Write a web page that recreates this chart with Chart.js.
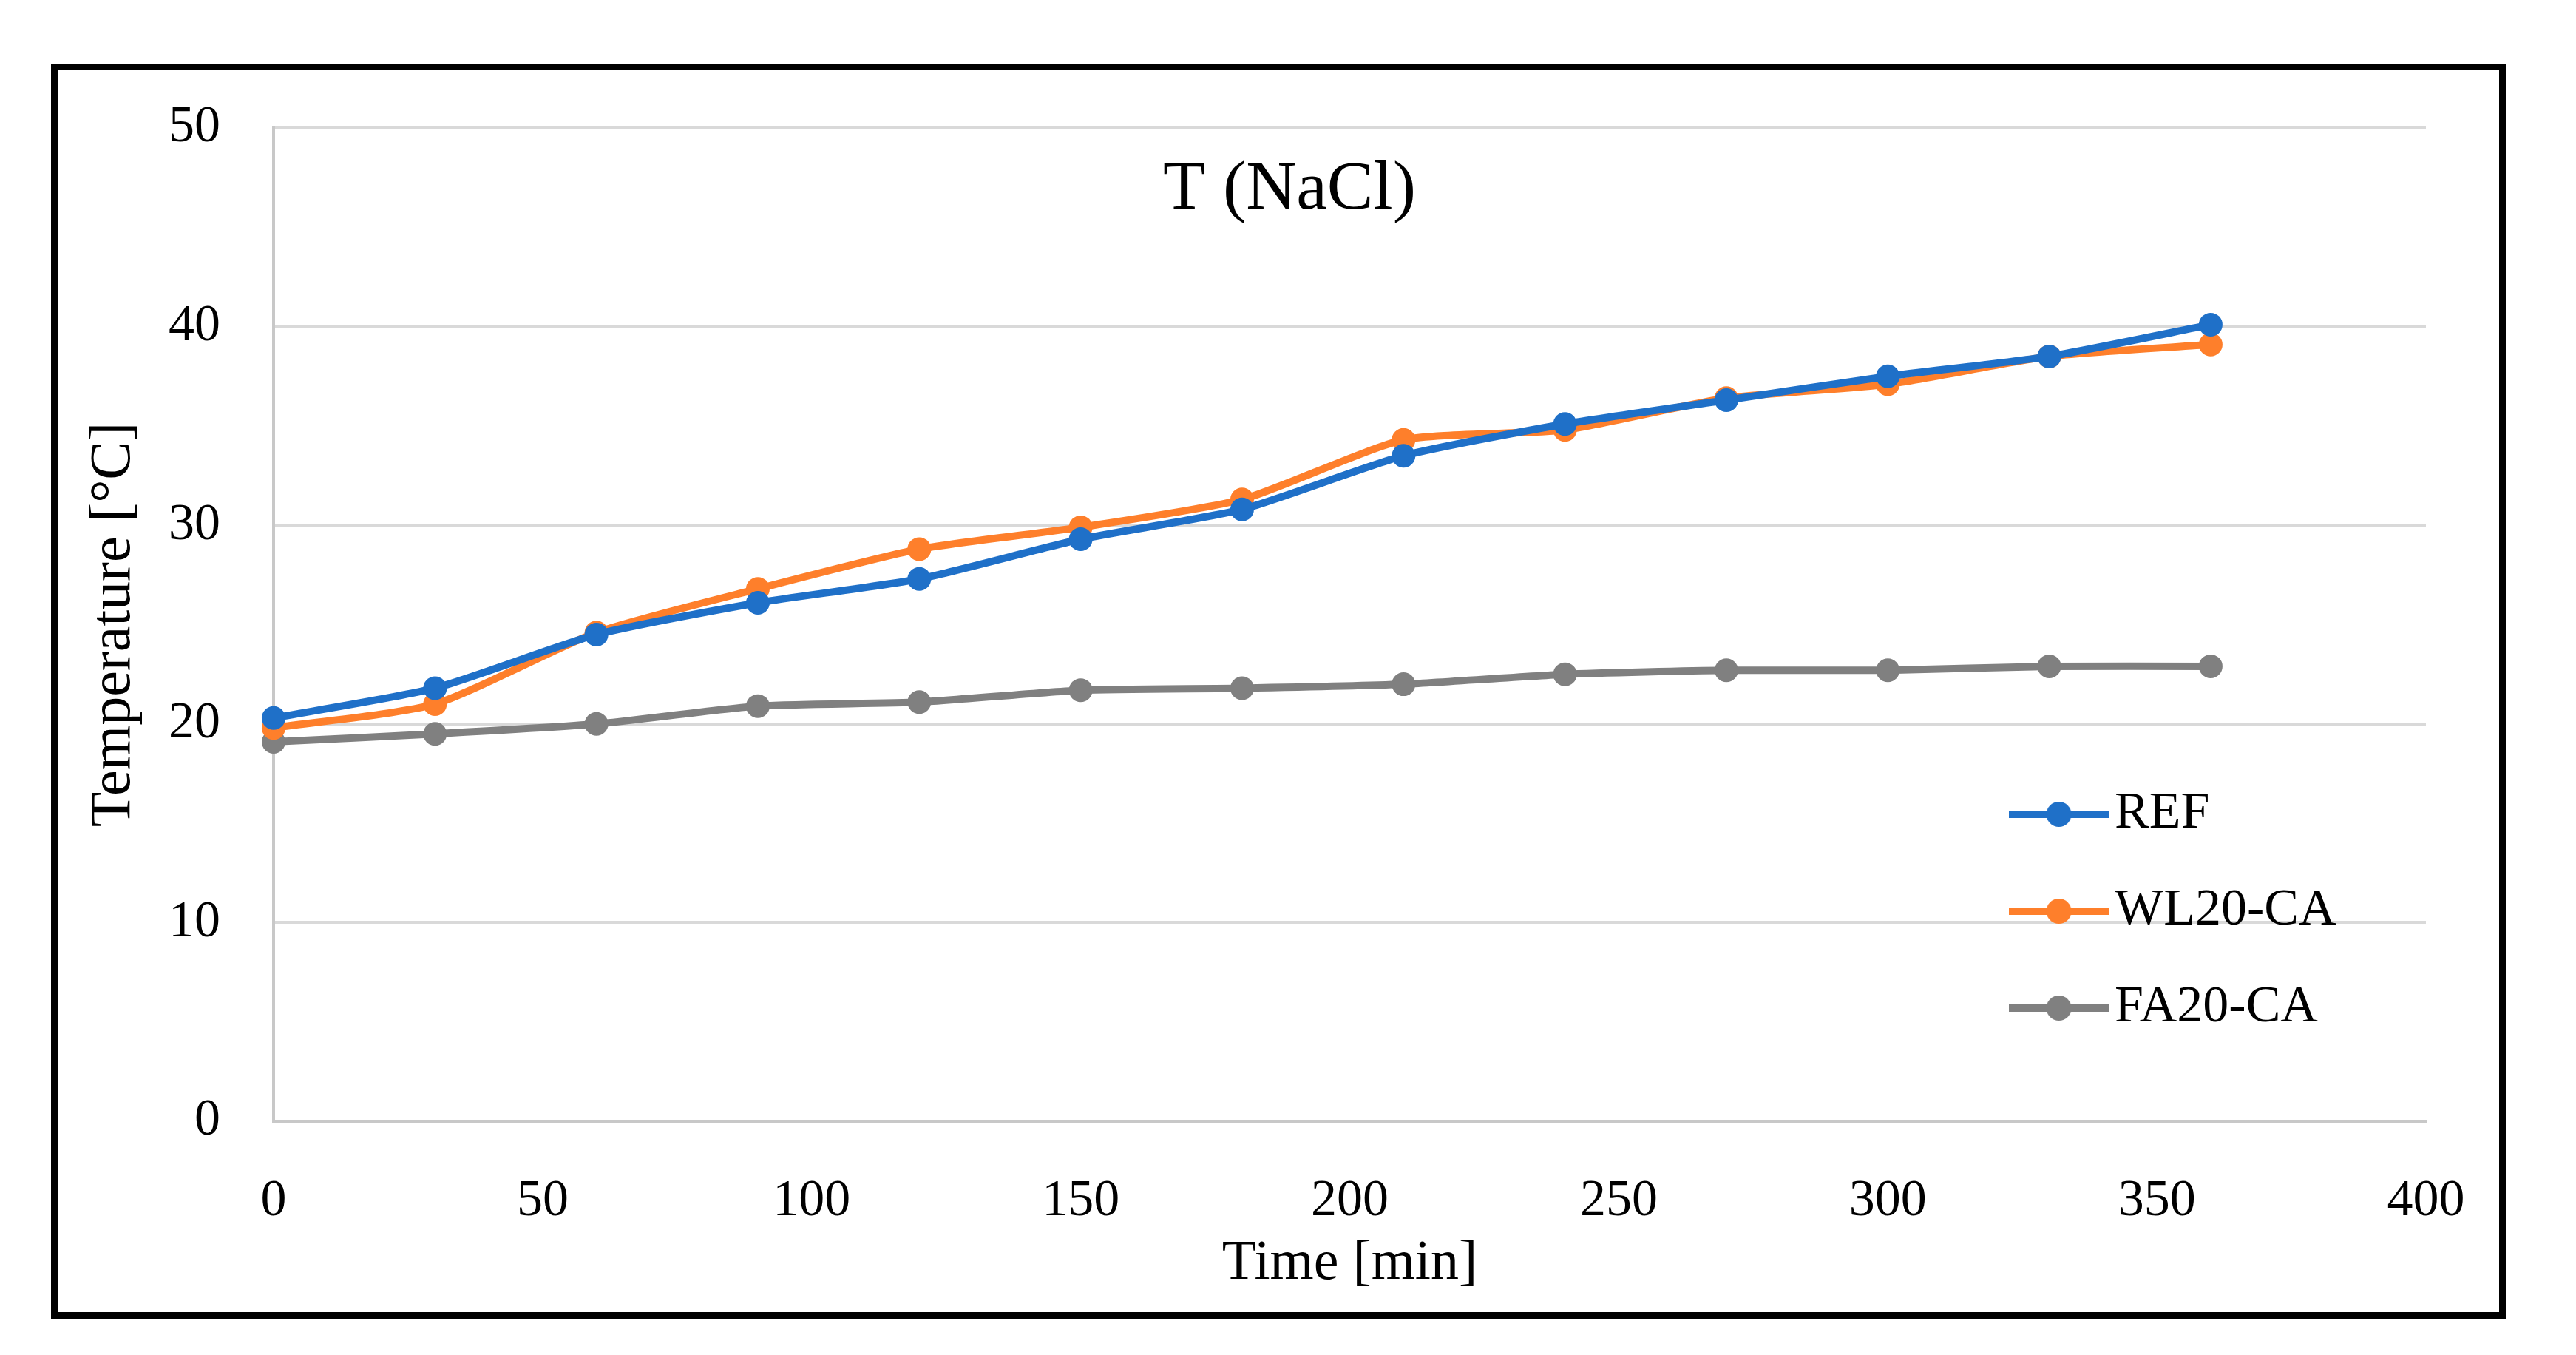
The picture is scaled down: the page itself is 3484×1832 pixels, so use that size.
<!DOCTYPE html>
<html>
<head>
<meta charset="utf-8">
<script src="https://cdn.jsdelivr.net/npm/chart.js@4/dist/chart.umd.min.js"></script>
<style>
  html, body { margin: 0; padding: 0; background: #fff; }
  .frame {
    position: absolute; left: 69px; top: 86px;
    width: 3320px; height: 1697px;
    border: 9px solid #000; box-sizing: border-box; background: #fff;
  }
  .frame canvas { display: block; }
</style>
</head>
<body>
<div class="frame"><canvas id="chart"></canvas></div>
<script>
// time axis (min) and measured temperatures (°C)
const timeMin = [0, 30, 60, 90, 120, 150, 180, 210, 240, 270, 300, 330, 360];
const refTemp = [20.3, 21.8, 24.5, 26.1, 27.3, 29.3, 30.8, 33.5, 35.1, 36.3, 37.5, 38.5, 40.1];
const wl20Temp = [19.8, 21.0, 24.6, 26.8, 28.8, 29.9, 31.3, 34.3, 34.8, 36.4, 37.1, 38.5, 39.1];
const fa20Temp = [19.1, 19.5, 20.0, 20.9, 21.1, 21.7, 21.8, 22.0, 22.5, 22.7, 22.7, 22.9, 22.9];
const seriesNames = ['REF', 'WL20-CA', 'FA20-CA'];
const seriesColors = ['#1f70c8', '#fe7f2b', '#808080'];
const chartTitle = 'T (NaCl)';

Chart.defaults.font.family = "'Liberation Serif', 'Times New Roman', serif";
Chart.defaults.color = '#000';

const toPoints = vals => vals.map((v, i) => ({x: timeMin[i], y: v}));

// legend glyph: line with marker, like the office legend
function legendIcon(color) {
  const c = document.createElement('canvas');
  c.width = 135; c.height = 40;
  const g = c.getContext('2d');
  g.fillStyle = color;
  g.fillRect(0, 15, 135, 10);
  g.beginPath();
  g.arc(67.5, 20, 17, 0, Math.PI * 2);
  g.fill();
  return c;
}
const icons = seriesColors.map(legendIcon);

function makeSet(i, vals) {
  return {
    label: seriesNames[i],
    data: toPoints(vals),
    borderColor: seriesColors[i],
    backgroundColor: seriesColors[i],
    pointBackgroundColor: seriesColors[i],
    pointBorderWidth: 0,
    pointRadius: 16,
    borderWidth: 10,
    tension: 0.2,
    clip: false
  };
}

const placeLegend = {
  id: 'placeLegend',
  beforeDraw(chart) {
    const a = chart.chartArea, lg = chart.legend;
    if (!lg) return;
    const w = a.right - a.left, h = a.bottom - a.top;
    lg.left = a.left + w * 0.7946;
    lg.right = a.right;
    lg.top = a.top + h * 0.6195;
    lg.bottom = lg.top + 1000;
  }
};

const insideTitle = {
  id: 'insideTitle',
  afterDraw(chart) {
    const a = chart.chartArea, ctx = chart.ctx;
    ctx.save();
    ctx.font = "94px 'Liberation Serif', serif";
    ctx.fillStyle = '#000';
    ctx.textAlign = 'center';
    ctx.textBaseline = 'alphabetic';
    ctx.fillText(chartTitle, a.left + (a.right - a.left) * 0.472, a.top + 109);
    ctx.restore();
  }
};

new Chart(document.getElementById('chart'), {
  type: 'line',
  data: {
    datasets: [makeSet(0, refTemp), makeSet(1, wl20Temp), makeSet(2, fa20Temp)]
  },
  options: {
    responsive: true,
    maintainAspectRatio: false,
    animation: false,
    layout: { padding: { top: 78, right: 99, left: 0, bottom: 0 } },
    scales: {
      x: {
        type: 'linear',
        min: 0, max: 400,
        ticks: { stepSize: 50, padding: 3, font: { size: 70 } },
        grid: { color: 'transparent', tickColor: 'transparent', drawTicks: true, tickLength: 64 },
        border: { display: true, color: '#c8c8c8', width: 4 },
        title: { display: true, text: 'Time [min]', font: { size: 76 }, padding: { top: 0, bottom: 19 } },
        afterFit(s) { s.height = 258; }
      },
      y: {
        min: 0, max: 50,
        ticks: { stepSize: 10, padding: 3, font: { size: 70 } },
        grid: { color: '#d9d9d9', lineWidth: 4, tickColor: 'transparent', drawTicks: true, tickLength: 69 },
        border: { display: true, color: '#c8c8c8', width: 4 },
        title: { display: true, text: 'Temperature [°C]', font: { size: 78 }, padding: { top: 30, bottom: 0 } },
        afterFit(s) { s.width = 292; }
      }
    },
    plugins: {
      title: { display: false },
      tooltip: { enabled: false },
      legend: {
        display: true,
        position: 'chartArea',
        align: 'start',
        labels: {
          usePointStyle: true,
          pointStyleWidth: 81,
          padding: 61,
          textAlign: 'left',
          font: { size: 70 },
          color: '#000',
          generateLabels(chart) {
            const items = Chart.defaults.plugins.legend.labels.generateLabels(chart);
            items.forEach((it, i) => { it.pointStyle = icons[i]; });
            return items;
          }
        }
      }
    }
  },
  plugins: [placeLegend, insideTitle]
});
</script>
</body>
</html>
